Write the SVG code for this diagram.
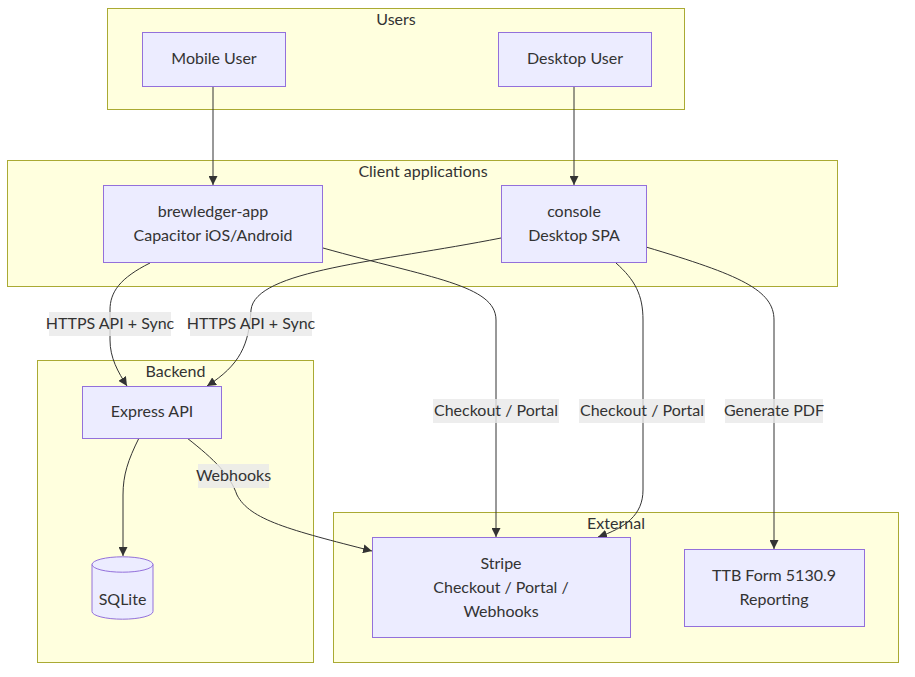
<svg xmlns="http://www.w3.org/2000/svg" width="915" height="677" viewBox="0 0 915 677">
<style>
text{font-family:Lato,"Liberation Sans",Arial,sans-serif;font-size:16px;fill:#333;text-anchor:middle}
.cluster{fill:#ffffde;stroke:#aaaa33;stroke-width:1}
.node{fill:#ECECFF;stroke:#9370DB;stroke-width:1}
.edge{fill:none;stroke:#333;stroke-width:1;marker-end:url(#arrow)}
.lbl{fill:#e8e8e8;opacity:0.8}
</style>
<defs>
<marker id="arrow" viewBox="0 0 10 10" refX="10" refY="5" markerWidth="9" markerHeight="9" markerUnits="userSpaceOnUse" orient="auto">
<path d="M0,0 L10,5 L0,10 z" fill="#333"/>
</marker>
</defs>
<g id="cluster-users"><rect class="cluster" x="107.5" y="8.5" width="577" height="101"/><text x="396" y="25">Users</text></g>
<g id="cluster-clients"><rect class="cluster" x="7.5" y="160.5" width="830" height="126"/><text x="423" y="177">Client applications</text></g>
<g id="cluster-backend"><rect class="cluster" x="37.5" y="360.5" width="276" height="302"/><text x="175.5" y="377">Backend</text></g>
<g id="cluster-external"><rect class="cluster" x="333.5" y="512.5" width="565" height="150"/><text x="616" y="529">External</text></g>

<g id="edges">
<path class="edge" d="M213,86 L213,185"/>
<path class="edge" d="M574,86 L574,185"/>
<path class="edge" d="M150,263 C120,278 110,292 110,310 L110,340 C110,358 118,372 127,386"/>
<path class="edge" d="M501,238 C380,262 255,270 251,310 C249,345 240,365 207,386"/>
<path class="edge" d="M323,248 C430,278 496,285 496,320 L496,537"/>
<path class="edge" d="M616,263 C635,280 643,295 643,320 L643,490 C643,515 625,528 598,537"/>
<path class="edge" d="M646,247 C740,275 774,290 774,320 L774,549"/>
<path class="edge" d="M139,438 C128,460 123,475 123,495 L123,556"/>
<path class="edge" d="M187,438 C215,460 230,475 237,495 C250,520 290,530 372,551"/>
<rect class="lbl" x="49" y="312" width="122" height="24"/><text x="110" y="329">HTTPS API + Sync</text>
<rect class="lbl" x="190" y="312" width="122" height="24"/><text x="251" y="329">HTTPS API + Sync</text>
<rect class="lbl" x="433" y="399" width="126" height="24"/><text x="496" y="416">Checkout / Portal</text>
<rect class="lbl" x="579" y="399" width="126" height="24"/><text x="642" y="416">Checkout / Portal</text>
<rect class="lbl" x="725" y="399" width="98" height="24"/><text x="774" y="416">Generate PDF</text>
<rect class="lbl" x="198" y="464" width="71" height="24"/><text x="233.5" y="481">Webhooks</text>
</g>

<g id="mobile-user"><rect class="node" x="142.5" y="32.5" width="143" height="54"/><text x="214" y="63.5">Mobile User</text></g>
<g id="desktop-user"><rect class="node" x="498.5" y="32.5" width="153" height="54"/><text x="575" y="63.5">Desktop User</text></g>
<g id="brewledger-app"><rect class="node" x="103.5" y="185.5" width="219" height="77"/><text x="213" y="216.5">brewledger-app</text><text x="213" y="240.5">Capacitor iOS/Android</text></g>
<g id="console"><rect class="node" x="501.5" y="185.5" width="145" height="77"/><text x="574" y="216.5">console</text><text x="574" y="240.5">Desktop SPA</text></g>
<g id="express-api"><rect class="node" x="82.5" y="386.5" width="139" height="52"/><text x="152" y="416.5">Express API</text></g>
<g id="sqlite"><path class="node" d="M92,564.5 a30.5,7.7 0 0 0 61,0 a30.5,7.7 0 0 0 -61,0 l0,47 a30.5,7.7 0 0 0 61,0 l0,-47"/><text x="122.5" y="604.5">SQLite</text></g>
<g id="stripe"><rect class="node" x="372.5" y="537.5" width="258" height="100"/><text x="501" y="568.5">Stripe</text><text x="501" y="592.5">Checkout / Portal /</text><text x="501" y="616.5">Webhooks</text></g>
<g id="ttb"><rect class="node" x="684.5" y="549.5" width="180" height="77"/><text x="774" y="580.5">TTB Form 5130.9</text><text x="774" y="604.5">Reporting</text></g>
</svg>
